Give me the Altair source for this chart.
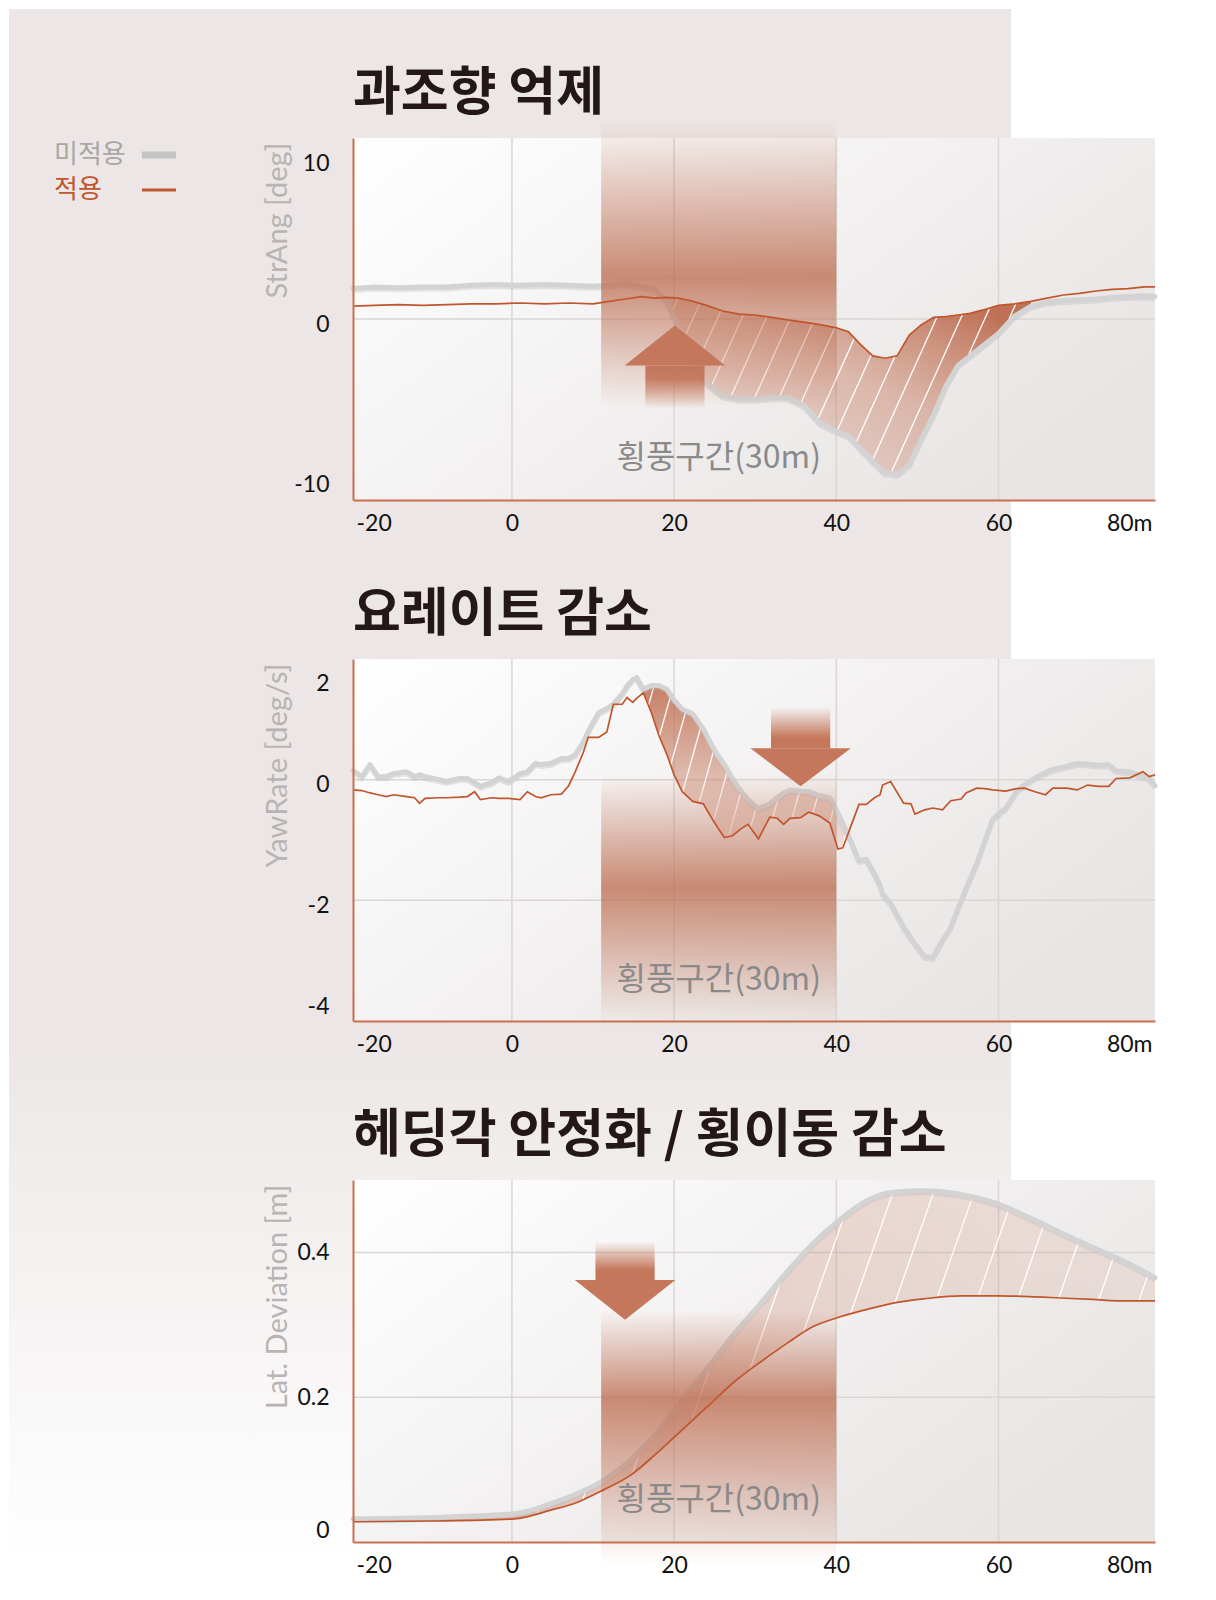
import altair as alt
import numpy as np
import pandas as pd

# ---- values ----
x_ticks = [-20, 0, 20, 40, 60, 80]
legend_labels = ["미적용", "적용"]
note_text = "횡풍구간(30m)"
panel_titles = ["과조향 억제", "요레이트 감소", "헤딩각 안정화 / 횡이동 감소"]
y_titles = ["StrAng [deg]", "YawRate [deg/s]", "Lat. Deviation [m]"]

# 과조향 억제 : StrAng [deg]
str_x = [-19.6, -17, -14, -11, -8, -5, -2, 1, 4, 7, 10, 12, 14, 16, 17.5, 19, 20.5, 22, 24, 26,
         28, 30, 32, 34, 36, 38, 40, 41.5, 43, 44.5, 46, 47.5, 49, 50.5, 52, 53.5, 55, 56.5, 58, 60,
         62, 64, 66, 68, 70, 72, 74, 76, 78, 79.3]
str_off = [1.9, 2.0, 1.95, 2.0, 2.0, 2.1, 2.15, 2.1, 2.15, 2.1, 2.05, 2.1, 2.2, 2.0, 1.9, 1.2, -0.4, -2.2, -4.0, -4.8,
           -5.0, -5.0, -4.9, -4.9, -5.4, -6.5, -7.0, -7.3, -8.1, -8.9, -9.6, -9.7, -9.1, -7.5, -6.0, -4.2, -2.9, -2.3, -1.7, -0.9,
           0.2, 0.8, 1.05, 1.15, 1.2, 1.25, 1.35, 1.4, 1.45, 1.4]
str_on = [0.8, 0.85, 0.9, 0.85, 0.9, 0.95, 0.95, 1.0, 0.95, 1.0, 0.95, 1.1, 1.25, 1.4, 1.3, 1.35, 1.3, 1.15, 0.85, 0.5,
          0.3, 0.25, 0.1, -0.05, -0.2, -0.35, -0.55, -0.8, -1.6, -2.3, -2.45, -2.3, -1.0, -0.35, 0.1, 0.15, 0.25, 0.35, 0.55, 0.85,
          0.95, 1.1, 1.3, 1.5, 1.6, 1.75, 1.85, 1.9, 2.0, 2.0]

# 요레이트 감소 : YawRate [deg/s]
yaw_x = [-19.6, -18.5, -17.5, -16.5, -15.5, -14.6, -13.0, -12.0, -11.4, -10.7, -9.0, -8.1, -6.5, -5.5, -4.6, -3.9,
         -2.5, -1.6, -0.4, 1.0, 1.9, 2.9, 3.6, 4.8, 6.1, 7.0, 7.8, 8.8, 9.4, 10.7, 11.7, 12.5, 13.6, 14.2, 14.9, 15.4,
         16.2, 17.2, 18.1, 19.1, 20.0, 21.0, 22.3, 23.6, 24.6, 25.4, 26.2, 27.2, 28.2, 29.1, 30.4, 31.8, 32.7, 33.5,
         34.3, 35.6, 36.6, 37.9, 39.2, 40.2, 40.8, 41.3, 41.8, 42.8, 43.7, 44.7, 45.4, 45.7, 46.7, 48.3, 49.2, 49.7,
         50.9, 51.9, 53.1, 54.1, 55.4, 56.0, 57.3, 58.3, 59.3, 60.9, 62.2, 63.2, 64.5, 65.8, 66.7, 68.4, 69.7, 71.0,
         72.3, 73.6, 74.5, 76.2, 77.8, 78.6, 79.3]
yaw_off = [0.15, 0.05, 0.25, 0.05, 0.05, 0.1, 0.13, 0.05, 0.08, 0.05, 0.0, -0.03, 0.02, 0.02, -0.05, -0.11,
           -0.05, 0.03, -0.03, 0.1, 0.13, 0.27, 0.25, 0.27, 0.35, 0.35, 0.41, 0.62, 0.8, 1.11, 1.18, 1.25, 1.42, 1.55, 1.66, 1.69,
           1.5, 1.56, 1.56, 1.5, 1.32, 1.17, 1.09, 0.84, 0.58, 0.4, 0.25, 0.02, -0.18, -0.33, -0.48, -0.4, -0.3, -0.22,
           -0.17, -0.19, -0.2, -0.26, -0.3, -0.55, -0.72, -0.87, -1.02, -1.34, -1.32, -1.56, -1.75, -1.89, -2.05, -2.44, -2.62, -2.72,
           -2.93, -2.95, -2.66, -2.45, -2.0, -1.8, -1.4, -1.02, -0.65, -0.47, -0.2, -0.08, 0.03, 0.12, 0.17, 0.22, 0.27, 0.26,
           0.24, 0.25, 0.15, 0.13, 0.06, 0.02, -0.1]
yaw_on = [-0.17, -0.18, -0.22, -0.25, -0.28, -0.25, -0.28, -0.3, -0.39, -0.31, -0.3, -0.3, -0.29, -0.28, -0.2, -0.33,
          -0.3, -0.31, -0.31, -0.33, -0.2, -0.28, -0.3, -0.25, -0.24, -0.1, 0.13, 0.45, 0.7, 0.7, 0.79, 1.25, 1.25, 1.36, 1.28, 1.35,
          1.44, 1.11, 0.74, 0.42, 0.08, -0.2, -0.36, -0.4, -0.63, -0.8, -0.96, -0.93, -0.82, -0.74, -0.98, -0.62, -0.64, -0.74,
          -0.64, -0.63, -0.54, -0.6, -0.72, -1.15, -1.13, -0.95, -0.77, -0.41, -0.41, -0.3, -0.25, -0.09, -0.03, -0.39, -0.4, -0.57,
          -0.5, -0.47, -0.5, -0.35, -0.32, -0.22, -0.14, -0.15, -0.17, -0.19, -0.15, -0.14, -0.2, -0.25, -0.14, -0.14, -0.17, -0.09,
          -0.11, -0.11, 0.02, 0.03, 0.13, 0.05, 0.08]

# 헤딩각 안정화 / 횡이동 감소 : Lat. Deviation [m]
lat_x = [-19.6, -10, 0.3, 4.8, 8.1, 11.3, 14.6, 17.8, 21, 24.3, 27.5, 30.7, 34, 37.2, 40.2, 43.7, 47, 50.9,
         55.4, 59.9, 63.8, 67.7, 71.6, 75.8, 79.3]
lat_off = [0.032, 0.034, 0.039, 0.053, 0.067, 0.085, 0.113, 0.15, 0.196, 0.243, 0.289, 0.33, 0.374, 0.413, 0.443,
           0.471, 0.483, 0.485, 0.48, 0.467, 0.448, 0.427, 0.407, 0.386, 0.365]
lat_on = [0.028, 0.029, 0.032, 0.044, 0.055, 0.072, 0.092, 0.122, 0.155, 0.189, 0.222, 0.249, 0.275, 0.298, 0.31,
          0.321, 0.33, 0.336, 0.34, 0.34, 0.339, 0.337, 0.335, 0.333, 0.333]

# ---- layout / style ----
W, H = 802, 362
X_DOM = [-19.6, 79.3]
GUST = [11, 40]
ORANGE = "#c0562e"
GRAY = "#d3d3d3"
ARROW = "#c4775a"
PAGE = "#ece7e6"
GRID = "#d9d6d5"
FONT_KR = "Noto Sans CJK KR"


def grad(stops, x1=0, y1=0, x2=0, y2=1):
    return alt.LinearGradient(gradient="linear", x1=x1, y1=y1, x2=x2, y2=y2,
                              stops=[alt.GradientStop(offset=o, color=c) for o, c in stops])


def first_cross(xs, f, c, after=None):
    d = f - c
    idx = np.where(np.sign(d[:-1]) != np.sign(d[1:]))[0]
    if after is not None:
        idx = idx[xs[idx] >= after]
    if len(idx) == 0:
        return None
    i = idx[0]
    t = d[i] / (d[i] - d[i + 1])
    return xs[i] + t * (xs[i + 1] - xs[i])


def hatch_lines(sub, step, k, px_x, px_y):
    # parallel "/" lines (x - s*y = c) clipped to the band between the two curves
    xs = np.linspace(sub["x"].min(), sub["x"].max(), 3000)
    lo = np.interp(xs, sub["x"], sub["lo"])
    hi = np.interp(xs, sub["x"], sub["hi"])
    s = k * px_y / px_x
    c_lo, c_hi = xs - s * lo, xs - s * hi
    rows = []
    for c in np.arange(c_hi.min() + step / 2, c_lo.max(), step):
        xa = first_cross(xs, c_lo, c)
        if xa is None:
            continue
        xb = first_cross(xs, c_hi, c, after=xa - 0.5)
        if xb is None:
            continue
        ya, yb = np.interp(xa, xs, lo), np.interp(xb, xs, hi)
        if (yb - ya) * px_y > 6:
            rows.append({"x": xa, "y": ya, "x2": xb, "y2": yb})
    return pd.DataFrame(rows)


def panel(title, ytitle, x, off, on, ydom, yticks, ygrid, fill_rng, fill_grad, hatch, band, arrow,
          note_y, interp="linear", ylab=None):
    df = pd.DataFrame({"x": x, "off": off, "on": on})
    df["lo"] = df[["off", "on"]].min(axis=1)
    df["hi"] = df[["off", "on"]].max(axis=1)
    sub = df[(df["x"] >= fill_rng[0]) & (df["x"] <= fill_rng[1])]

    xs = alt.Scale(domain=X_DOM, nice=False, zero=False)
    ys = alt.Scale(domain=ydom, nice=False, zero=False)

    x_axis = alt.Axis(values=[max(v, X_DOM[0]) if v < 0 else min(v, X_DOM[1]) for v in x_ticks],
                      labelExpr="datum.value < -19 ? '-20' : datum.value > 79 ? '80m' : datum.value + ''",
                      title=None, grid=False, ticks=False, labelFlush=True, labelFlushOffset=-3,
                      domainColor="#c8714f", domainWidth=2, labelFont="Lato", labelFontSize=23,
                      labelColor="#111111", labelPadding=12, zindex=1)
    y_axis = alt.Axis(values=yticks, labelExpr="datum.value + ''", title=ytitle, grid=False, ticks=False,
                      domainColor="#c8714f", domainWidth=2, labelFont="Lato", labelFontSize=23,
                      labelColor="#111111", labelPadding=24, titleFont="Lato", titleFontSize=29,
                      titleFontWeight="normal", titleColor="#b8b4b3", titleX=-76, titleY=4,
                      titleAlign="right", titleAngle=270, titleBaseline="middle", zindex=1,
                      **(ylab or {}))

    def X(f):
        return alt.X(f, type="quantitative", scale=xs, axis=x_axis)

    def Y(f):
        return alt.Y(f, type="quantitative", scale=ys, axis=y_axis)

    bg = alt.Chart(pd.DataFrame({"x": [X_DOM[0]], "x2": [X_DOM[1]], "y": [ydom[0]], "y2": [ydom[1]]})).mark_rect(
        fill=grad([(0, "#ffffff"), (1, "#e8e5e4")], x1=0, y1=0, x2=1, y2=0.6)
    ).encode(x=X("x"), x2="x2", y=Y("y"), y2="y2")

    gx = alt.Chart(pd.DataFrame({"x": x_ticks[1:-1]})).mark_rule(color=GRID, strokeWidth=1.5).encode(x=X("x"))
    gy = alt.Chart(pd.DataFrame({"y": ygrid})).mark_rule(color=GRID, strokeWidth=1.5).encode(y=Y("y"))

    area = alt.Chart(sub).mark_area(fill=fill_grad, interpolate=interp).encode(x=X("x"), y=Y("lo"), y2="hi")

    px_x = W / (X_DOM[1] - X_DOM[0])
    px_y = H / (ydom[1] - ydom[0])
    hdf = hatch_lines(sub, hatch[0], hatch[1], px_x, px_y)
    hl = alt.Chart(hdf).mark_rule(color="white", strokeWidth=1.3).encode(
        x=X("x"), x2="x2", y=Y("y"), y2="y2")

    shadow = alt.Chart(df).mark_line(color="#b9b6b5", strokeWidth=5, opacity=0.35, yOffset=2,
                                     interpolate=interp).encode(x=X("x"), y=Y("off"))
    gray = alt.Chart(df).mark_line(color=GRAY, strokeWidth=5, strokeJoin="round", strokeCap="round",
                                   interpolate=interp).encode(x=X("x"), y=Y("off"))

    b_top, b_bot, b_peak = band
    band_rect = alt.Chart(pd.DataFrame({"x": [GUST[0]], "x2": [GUST[1]], "y": [b_top], "y2": [b_bot]})).mark_rect(
        fill=grad([(0, "rgba(190,112,85,0)"), (b_peak, "rgba(190,112,85,0.8)"), (1, "rgba(190,112,85,0)")])
    ).encode(x=X("x"), x2="x2", y=Y("y"), y2="y2")

    orange = alt.Chart(df).mark_line(color=ORANGE, strokeWidth=1.7, interpolate=interp).encode(
        x=X("x"), y=Y("on"))

    ax, tip, base, tail = arrow["x"], arrow["tip"], arrow["base"], arrow["tail"]
    up = tip > base
    shaft_stops = [(0, "rgba(196,119,90,1)"), (0.3, "rgba(196,119,90,0.95)"), (1, "rgba(196,119,90,0)")] if up else \
        [(0, "rgba(196,119,90,0)"), (0.75, "rgba(196,119,90,1)"), (1, "rgba(196,119,90,1)")]
    shaft = alt.Chart(pd.DataFrame({"x": [ax - 3.65], "x2": [ax + 3.65], "y": [base], "y2": [tail]})).mark_rect(
        fill=grad(shaft_stops)).encode(x=X("x"), x2="x2", y=Y("y"), y2="y2")
    head = alt.Chart(pd.DataFrame({"x": [ax - 6.2, ax, ax + 6.2], "y": [base, tip, base], "b": [base] * 3})).mark_area(
        color=ARROW).encode(x=X("x"), y=Y("y"), y2="b")

    note = alt.Chart(pd.DataFrame({"x": [25.5], "y": [note_y], "t": [note_text]})).mark_text(
        font=FONT_KR, fontSize=32, color="#8a8a8a").encode(x=X("x"), y=Y("y"), text="t")

    head_txt = alt.Chart(pd.DataFrame({"t": [title]})).mark_text(
        font=FONT_KR, fontSize=52, fontWeight="bold", color="#231815", align="left", baseline="alphabetic"
    ).encode(x=alt.value(0), y=alt.value(-28), text="t")

    return [bg, gx, gy, area, hl, shadow, gray, band_rect, orange, shaft, head, note, head_txt]


# page decoration + legend (drawn in the first panel's frame)
deco = alt.Chart(pd.DataFrame({"k": [0]}))
page_bg = deco.mark_rect(color=PAGE).encode(
    x=alt.value(-344), x2=alt.value(658), y=alt.value(-129), y2=alt.value(903))
page_fade = deco.mark_rect(fill=grad([(0, PAGE), (1, "#ffffff")])).encode(
    x=alt.value(-344), x2=alt.value(658), y=alt.value(903), y2=alt.value(1423))

legend_layers = []
for i, (lab, col, sw, swc) in enumerate(zip(legend_labels, ["#a9a6a5", ORANGE], [7, 3], ["#c4c4c4", ORANGE])):
    legend_layers.append(
        alt.Chart(pd.DataFrame({"t": [lab]})).mark_text(font=FONT_KR, fontSize=26, color=col, align="left",
                                                        baseline="middle").encode(
            x=alt.value(-299), y=alt.value(17 + 35 * i), text="t"))
    legend_layers.append(
        deco.mark_rule(color=swc, strokeWidth=sw).encode(
            x=alt.value(-211), x2=alt.value(-177), y=alt.value(17 + 35 * i)))

l1 = panel(panel_titles[0], y_titles[0], str_x, str_off, str_on, [-11.3, 11.3], [-10, 0, 10], [0],
           [18.5, 65],
           grad([(0, "rgba(200,125,98,0.18)"), (0.55, "rgba(196,118,90,0.45)"), (1, "rgba(186,100,70,0.9)")],
                x1=0.2, y1=1, x2=1, y2=0.2),
           (3.0, 0.45), (12.5, -5.5, 0.55),
           {"x": 20.1, "tip": -0.4, "base": -2.9, "tail": -5.6}, -8.7, ylab={"labelOffset": 5})

l2 = panel(panel_titles[1], y_titles[1], yaw_x, yaw_off, yaw_on, [-4, 2], [-4, -2, 0, 2], [0, -2],
           [16, 41.3],
           grad([(0, "rgba(190,105,75,0.85)"), (1, "rgba(200,125,98,0.12)")]),
           (2.4, 0.28), (0.1, -4.1, 0.45),
           {"x": 35.6, "tip": -0.11, "base": 0.52, "tail": 1.2}, -3.32,
           ylab={"labelFlush": True, "labelFlushOffset": -8, "labelOffset": 5})

l3 = panel(panel_titles[2], y_titles[2], lat_x, lat_off, lat_on, [0, 0.5], [0, 0.2, 0.4],
           [0.2, 0.4], [-19.6, 79.3],
           grad([(0, "rgba(190,105,75,0.5)"), (0.35, "rgba(196,118,90,0.3)"), (1, "rgba(200,125,98,0.12)")],
                x1=0, y1=0, x2=1, y2=0),
           (5.0, 0.35), (0.32, -0.03, 0.35),
           {"x": 13.95, "tip": 0.307, "base": 0.362, "tail": 0.415}, 0.058,
           interp="monotone", ylab={"labelFlush": True})

p1 = alt.layer(page_bg, page_fade, *l1, *legend_layers).properties(width=W, height=H)
p2 = alt.layer(*l2).properties(width=W, height=H)
p3 = alt.layer(*l3).properties(width=W, height=H)

chart = alt.vconcat(p1, p2, p3, spacing=159, bounds="flush").properties(
    padding=0, background="white"
).configure_view(stroke="transparent")

chart.save("out.html", embed_options={"renderer": "svg", "actions": False})
